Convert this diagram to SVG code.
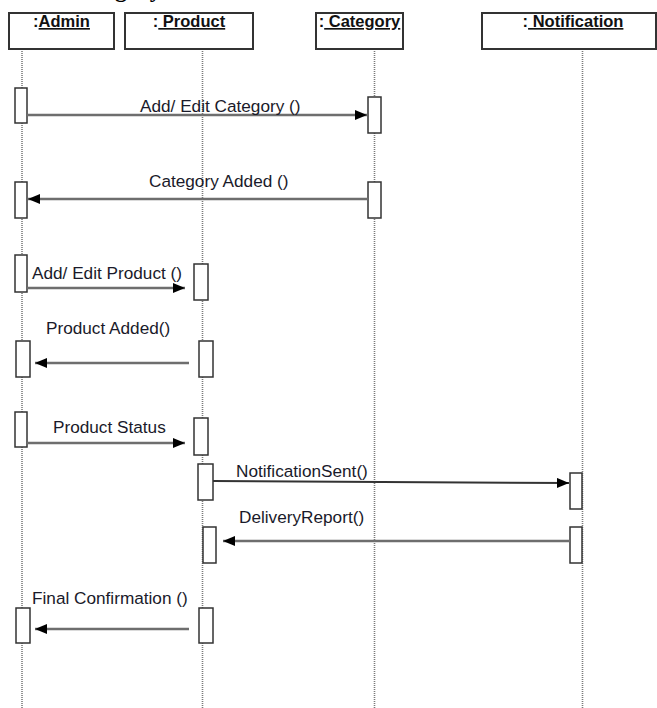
<svg xmlns="http://www.w3.org/2000/svg" width="657" height="708" viewBox="0 0 657 708">
<style>
.head{fill:#fff;stroke:#333;stroke-width:2}
.ht{font-family:"Liberation Sans",Arial,sans-serif;font-size:16.5px;font-weight:bold;fill:#111}
.u{text-decoration:underline}
.life{stroke:#7a7a7a;stroke-width:1.6;stroke-dasharray:1 1;fill:none}
.act{fill:#fff;stroke:#333;stroke-width:1.5}
.msg{stroke:#6e6e6e;stroke-width:2.5;fill:none}
.lbl{font-family:"Liberation Sans",Arial,sans-serif;font-size:17.2px;fill:#1a1a2a}
</style>
<defs>
<marker id="ah" viewBox="0 0 12 10" refX="12" refY="5" markerWidth="12" markerHeight="10" markerUnits="userSpaceOnUse" orient="auto">
<path d="M0,0 L12,5 L0,10 Z" fill="#000"/>
</marker>
</defs>
<rect width="657" height="708" fill="#fff"/>
<text x="67" y="-3" font-family="Liberation Serif,serif" font-size="24" font-weight="bold" fill="#000">Category</text>

<g id="lifelines">
<line class="life" x1="22" y1="49" x2="22" y2="708"/>
<line class="life" x1="202.5" y1="49" x2="202.5" y2="708"/>
<line class="life" x1="374.5" y1="49" x2="374.5" y2="708"/>
<line class="life" x1="582.5" y1="49" x2="582.5" y2="708"/>
</g>

<g id="admin">
<rect class="head" x="9" y="13" width="105" height="36"/>
<text class="ht" x="61.5" y="27" text-anchor="middle">:<tspan class="u">Admin</tspan></text>
</g>
<g id="product">
<rect class="head" x="125" y="13" width="128" height="36"/>
<text class="ht" x="189" y="27" text-anchor="middle">:<tspan class="u"> Product</tspan></text>
</g>
<g id="category">
<rect class="head" x="316" y="13" width="87" height="36"/>
<text class="ht" x="359.5" y="27" text-anchor="middle">:<tspan class="u"> Category</tspan></text>
</g>
<g id="notification">
<rect class="head" x="482" y="13" width="174" height="36"/>
<text class="ht" x="573" y="27" text-anchor="middle">:<tspan class="u"> Notification</tspan></text>
</g>

<g id="activations">
<rect class="act" x="15" y="88" width="12" height="35"/>
<rect class="act" x="368" y="97" width="13" height="36"/>
<rect class="act" x="15" y="182" width="12" height="36"/>
<rect class="act" x="368" y="182" width="13" height="36"/>
<rect class="act" x="15" y="255" width="12" height="37"/>
<rect class="act" x="194" y="264" width="14" height="36"/>
<rect class="act" x="16" y="341" width="14" height="36"/>
<rect class="act" x="199" y="341" width="14" height="36"/>
<rect class="act" x="15" y="412" width="12" height="35"/>
<rect class="act" x="194" y="418" width="14" height="37"/>
<rect class="act" x="198" y="464" width="15" height="36"/>
<rect class="act" x="570" y="473" width="12" height="36"/>
<rect class="act" x="203" y="527" width="13" height="36"/>
<rect class="act" x="570" y="527" width="12" height="36"/>
<rect class="act" x="16" y="608" width="14" height="35"/>
<rect class="act" x="199" y="608" width="14" height="35"/>
</g>

<g id="connectors">
<line class="msg" x1="27" y1="115" x2="367" y2="115" marker-end="url(#ah)"/>
<line class="msg" x1="368" y1="199" x2="28" y2="199" marker-end="url(#ah)"/>
<line class="msg" x1="27" y1="288" x2="185" y2="288" marker-end="url(#ah)"/>
<line class="msg" x1="189" y1="363" x2="35" y2="363" marker-end="url(#ah)"/>
<line class="msg" x1="27" y1="443" x2="185" y2="443" marker-end="url(#ah)"/>
<line x1="213" y1="481" x2="569" y2="483" stroke="#333" stroke-width="2" marker-end="url(#ah)"/>
<line class="msg" x1="570" y1="541" x2="223" y2="541" marker-end="url(#ah)"/>
<line class="msg" x1="189" y1="629" x2="35" y2="629" marker-end="url(#ah)"/>
</g>

<g id="labels">
<text class="lbl" x="140" y="112">Add/ Edit Category ()</text>
<text class="lbl" x="149" y="187">Category Added ()</text>
<text class="lbl" x="32" y="279">Add/ Edit Product ()</text>
<text class="lbl" x="46" y="334">Product Added()</text>
<text class="lbl" x="53" y="433">Product Status</text>
<text class="lbl" x="236" y="477">NotificationSent()</text>
<text class="lbl" x="239" y="523">DeliveryReport()</text>
<text class="lbl" x="32" y="604">Final Confirmation ()</text>
</g>
</svg>
